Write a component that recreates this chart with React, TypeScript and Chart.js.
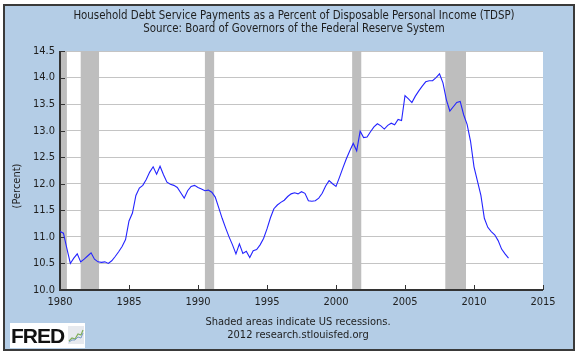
import React, { useEffect, useRef } from "react";
import { Chart, registerables } from "chart.js";

Chart.register(...registerables);

// ---- Data (quarterly, starting 1980 Q1) ----
const startYear = 1980;
const quarterlyValues = [
  11.1, 11.07, 10.78, 10.5,
  10.6, 10.68, 10.53, 10.58,
  10.64, 10.7, 10.58, 10.53,
  10.52, 10.53, 10.5, 10.55,
  10.63, 10.72, 10.82, 10.95,
  11.3, 11.45, 11.78, 11.92,
  11.97, 12.08, 12.22, 12.32,
  12.18, 12.33, 12.17, 12.03,
  11.99, 11.97, 11.93, 11.83,
  11.73, 11.87, 11.95, 11.97,
  11.93, 11.9, 11.87, 11.88,
  11.84, 11.75, 11.55, 11.35,
  11.17, 11.0, 10.85, 10.68,
  10.87, 10.69, 10.73, 10.61,
  10.74, 10.76, 10.85, 10.97,
  11.15, 11.36, 11.53, 11.6,
  11.65, 11.69, 11.76, 11.81,
  11.83, 11.81, 11.85, 11.82,
  11.68, 11.67, 11.68, 11.73,
  11.82, 11.96, 12.06, 12.0,
  11.95, 12.12, 12.3, 12.47,
  12.62, 12.76, 12.62, 12.99,
  12.87, 12.88, 12.98, 13.07,
  13.13, 13.09, 13.03, 13.1,
  13.14, 13.11, 13.21, 13.19,
  13.66, 13.6, 13.53, 13.65,
  13.75, 13.84, 13.92, 13.94,
  13.94, 14.0, 14.07, 13.9,
  13.58, 13.37, 13.45, 13.53,
  13.55, 13.3, 13.12, 12.8,
  12.32, 12.05, 11.78, 11.35,
  11.18, 11.1, 11.04, 10.93,
  10.77, 10.68, 10.6,
];
const quarterDates = quarterlyValues.map((_, i) => startYear + i / 4);

// US recessions (decimal years)
const recessionStarts = [1980.0, 1981.5, 1990.5, 2001.17, 2007.92];
const recessionEnds = [1980.5, 1982.83, 1991.17, 2001.83, 2009.42];

const xMin = 1980;
const xMax = 2015;
const xStep = 5;
const yMin = 10;
const yMax = 14.5;
const yStep = 0.5;

const titleLines = [
  "Household Debt Service Payments as a Percent of Disposable Personal Income (TDSP)",
  "Source: Board of Governors of the Federal Reserve System",
];
const yAxisTitle = "(Percent)";
const footerLines = ["Shaded areas indicate US recessions.", "2012 research.stlouisfed.org"];

const FONT = '"DejaVu Sans Condensed", "DejaVu Sans", sans-serif';
const TEXT = "#1e1e1e";

const decorPlugin = {
  id: "decor",
  beforeDraw(chart: any) {
    const { ctx, chartArea: a } = chart;
    ctx.save();
    ctx.fillStyle = "#ffffff";
    ctx.fillRect(a.left, a.top, a.right - a.left, a.bottom - a.top);
    ctx.restore();
  },
  beforeDatasetsDraw(chart: any) {
    const { ctx, chartArea: a, scales } = chart;
    const xs = scales.x;
    const ys = scales.y;
    ctx.save();
    ctx.fillStyle = "#bebebe";
    for (let i = 0; i < recessionStarts.length; i++) {
      const x0 = xs.getPixelForValue(recessionStarts[i]);
      const x1 = xs.getPixelForValue(recessionEnds[i]);
      ctx.fillRect(x0, a.top, x1 - x0, a.bottom - a.top);
    }
    // axes lines
    ctx.strokeStyle = "#333333";
    ctx.lineWidth = 2;
    ctx.beginPath();
    ctx.moveTo(a.left, a.top);
    ctx.lineTo(a.left, a.bottom);
    ctx.lineTo(a.right, a.bottom);
    ctx.stroke();
    // inner tick marks
    ctx.lineWidth = 1;
    ctx.beginPath();
    for (const t of xs.ticks) {
      const px = Math.round(xs.getPixelForValue(t.value)) + 0.5;
      ctx.moveTo(px, a.bottom);
      ctx.lineTo(px, a.bottom - 5);
    }
    for (const t of ys.ticks) {
      const py = Math.round(ys.getPixelForValue(t.value)) + 0.5;
      ctx.moveTo(a.left, py);
      ctx.lineTo(a.left + 5, py);
    }
    ctx.stroke();
    ctx.restore();
  },
};

function FredIcon() {
  return (
    <svg width="16" height="18" viewBox="0 0 16 18" style={{ position: "absolute", left: 58, top: 3 }}>
      <rect x="0" y="0" width="16" height="18" fill="#e6e9ee" />
      <polyline points="1,15 4,12 7,13 10,8 13,9 15,4" fill="none" stroke="#7fae5a" strokeWidth="1.2" />
      <polyline points="1,16 4,14 7,14 10,11 13,12 15,7" fill="none" stroke="#7a9cc8" strokeWidth="1" />
    </svg>
  );
}

export default function App() {
  const canvasRef = useRef<HTMLCanvasElement | null>(null);

  useEffect(() => {
    if (!canvasRef.current) return;
    const chart = new Chart(canvasRef.current, {
      type: "line",
      data: {
        datasets: [
          {
            label: "TDSP",
            data: quarterDates.map((d, i) => ({ x: d, y: quarterlyValues[i] })),
            borderColor: "#2424ff",
            borderWidth: 1.1,
            pointRadius: 0,
            tension: 0,
            fill: false,
          },
        ],
      },
      options: {
        responsive: false,
        animation: false,
        devicePixelRatio: 1,
        layout: { padding: { top: 51, right: 37, bottom: 0, left: 0 } },
        plugins: {
          legend: { display: false },
          tooltip: { enabled: false },
          title: { display: false },
        },
        scales: {
          x: {
            type: "linear",
            min: xMin,
            max: xMax,
            afterFit: (s: any) => {
              s.height = 63;
            },
            ticks: {
              stepSize: xStep,
              padding: 6,
              color: TEXT,
              font: { family: FONT, size: 11 },
              callback: (v: any) => String(v),
              maxRotation: 0,
            },
            grid: { display: false, drawTicks: false },
            border: { display: false },
          },
          y: {
            type: "linear",
            min: yMin,
            max: yMax,
            afterFit: (s: any) => {
              s.width = 60;
            },
            ticks: {
              stepSize: yStep,
              padding: 5,
              color: TEXT,
              font: { family: FONT, size: 11 },
              callback: (v: any) => Number(v).toFixed(1),
            },
            grid: { color: "#c4c4c4", lineWidth: 1, drawTicks: false },
            border: { display: false },
          },
        },
      },
      plugins: [decorPlugin],
    });
    return () => chart.destroy();
  }, []);

  return (
    <div style={{ position: "absolute", left: 0, top: 0, width: 580, height: 353, background: "#ffffff", overflow: "hidden", fontFamily: FONT, color: TEXT }}>
      <div
        style={{
          position: "absolute",
          left: 3,
          top: 4,
          width: 572,
          height: 347,
          boxSizing: "border-box",
          border: "2px solid #3a3a3a",
          background: "#b4cde6",
        }}
      />
      <canvas ref={canvasRef} width={580} height={353} style={{ position: "absolute", left: 0, top: 0, width: 580, height: 353 }} />
      <div style={{ position: "absolute", left: 0, top: 9, width: 588, textAlign: "center", fontSize: 11.4, lineHeight: "12.5px" }}>
        {titleLines.map((t) => (
          <div key={t}>{t}</div>
        ))}
      </div>
      <div
        style={{
          position: "absolute",
          left: 10,
          top: 179,
          width: 14,
          height: 14,
          display: "flex",
          alignItems: "center",
          justifyContent: "center",
        }}
      >
        <div style={{ transform: "rotate(-90deg)", whiteSpace: "nowrap", fontSize: 11, lineHeight: "14px" }}>{yAxisTitle}</div>
      </div>
      <div style={{ position: "absolute", left: 0, top: 315, width: 596, textAlign: "center", fontSize: 11, lineHeight: "13px" }}>
        {footerLines.map((t) => (
          <div key={t}>{t}</div>
        ))}
      </div>
      <div style={{ position: "absolute", left: 10, top: 323, width: 75, height: 25, background: "#ffffff" }}>
        <div
          style={{
            position: "absolute",
            left: 1,
            top: 0,
            fontFamily: '"Liberation Sans", Arial, sans-serif',
            fontWeight: 700,
            fontSize: 21,
            letterSpacing: -1,
            lineHeight: "25px",
            color: "#111",
          }}
        >
          FRED
        </div>
        <FredIcon />
      </div>
    </div>
  );
}
